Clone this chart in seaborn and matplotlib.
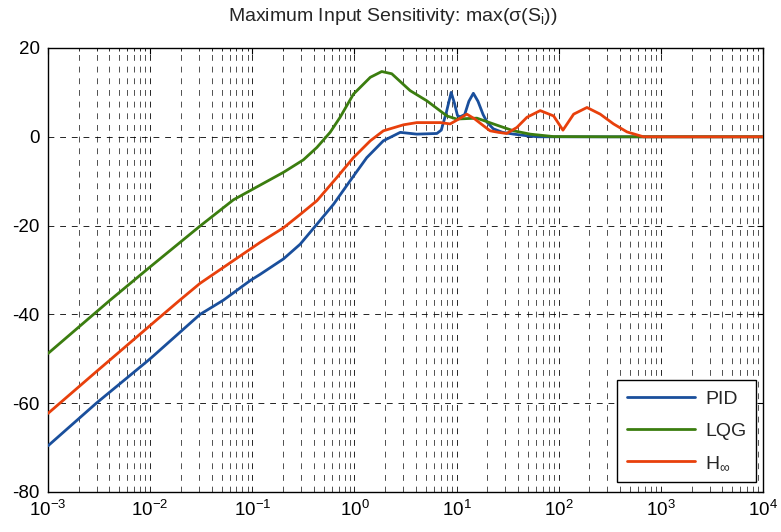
import numpy as np
import pandas as pd
import matplotlib
matplotlib.use("Agg")
import matplotlib.pyplot as plt
import matplotlib.ticker as mticker
import seaborn as sns

# ---------------- data ----------------
pid_freq = [0.001, 0.00297, 0.01, 0.0308, 0.0521, 0.0951, 0.119, 0.202, 0.294, 0.429,
            0.624, 0.908, 1.32, 1.92, 2.81, 4.08, 6.41, 7.08, 7.94, 8.85, 9.55,
            10.2, 10.8, 12.0, 13.2, 14.6, 16.2, 18.2, 20.0, 22.9, 28.2, 36.3,
            50.1, 63.1, 100.0, 10000.0]
pid_mag = [-69.6, -60.0, -50.0, -40.0, -36.8, -32.4, -31.0, -27.5, -24.2, -19.7,
           -15.2, -9.9, -4.7, -0.9, 1.0, 0.6, 0.75, 1.5, 5.5, 10.0, 7.5,
           4.8, 4.5, 5.0, 8.0, 9.8, 8.0, 5.0, 3.2, 1.8, 1.0, 0.6,
           0.2, 0.0, 0.0, 0.0]

lqg_freq = [0.001, 0.00405, 0.01, 0.0308, 0.0653, 0.119, 0.202, 0.316, 0.429, 0.578,
            0.724, 0.977, 1.43, 1.85, 2.32, 3.51, 5.12, 8.04, 10.0, 15.8,
            25.7, 36.1, 52.5, 89.1, 316.0, 10000.0]
lqg_mag = [-48.8, -36.8, -29.3, -20.1, -14.2, -10.9, -8.0, -5.2, -2.4, 1.0,
           4.4, 9.6, 13.4, 14.7, 14.2, 10.4, 8.1, 4.7, 4.0, 4.2,
           2.5, 1.35, 0.6, 0.05, 0.0, 0.0]

hinf_freq = [0.001, 0.00297, 0.0115, 0.0195, 0.0308, 0.119, 0.202, 0.294, 0.429, 0.671,
             0.977, 1.43, 1.92, 3.02, 4.08, 6.92, 8.65, 10.5, 12.6, 15.1,
             18.3, 21.3, 25.7, 30.9, 38.9, 48.9, 65.9, 89.1, 110.0, 140.0,
             189.0, 255.0, 344.0, 466.0, 676.0, 10000.0]
hinf_mag = [-62.3, -52.9, -41.3, -36.8, -33.0, -23.8, -20.5, -17.5, -14.4, -9.2,
            -4.7, -0.9, 1.35, 2.7, 3.2, 3.2, 2.9, 4.0, 5.1, 4.0,
            2.5, 1.35, 1.0, 0.75, 2.1, 4.4, 5.9, 4.7, 1.5, 5.1,
            6.6, 5.1, 2.9, 1.1, 0.0, 0.0]

labels = ["PID", "LQG", r"H$_{\infty}$"]
colors = ["#1a4f9c", "#3b7d0f", "#e8400c"]

title = r"Maximum Input Sensitivity: max(σ(S$_{\mathrm{i}}$))"
xticks = [1e-3, 1e-2, 1e-1, 1e0, 1e1, 1e2, 1e3, 1e4]
yticks = [-80, -60, -40, -20, 0, 20]

# ---------------- style ----------------
sns.set_style("white")
plt.rcParams["font.family"] = ["Liberation Sans", "DejaVu Sans"]
plt.rcParams["mathtext.fontset"] = "custom"
plt.rcParams["mathtext.rm"] = "Liberation Sans"
plt.rcParams["mathtext.it"] = "Liberation Sans:italic"
plt.rcParams["mathtext.default"] = "regular"
plt.rcParams["axes.unicode_minus"] = False

df = pd.concat([
    pd.DataFrame({"freq": pid_freq, "mag": pid_mag, "ctrl": labels[0]}),
    pd.DataFrame({"freq": lqg_freq, "mag": lqg_mag, "ctrl": labels[1]}),
    pd.DataFrame({"freq": hinf_freq, "mag": hinf_mag, "ctrl": labels[2]}),
], ignore_index=True)

fig = plt.figure(figsize=(7.81, 5.32), dpi=100)
ax = fig.add_axes([48 / 781, 1 - 492 / 532, 715 / 781, 444 / 532])

sns.lineplot(data=df, x="freq", y="mag", hue="ctrl", hue_order=labels,
             palette=dict(zip(labels, colors)), estimator=None, sort=True,
             linewidth=2.0, ax=ax, legend=False, zorder=3)

ax.set_xscale("log")
ax.set_xlim(1e-3, 1e4)
ax.set_ylim(-80, 20)
ax.set_xticks(xticks)
ax.xaxis.set_minor_locator(mticker.LogLocator(base=10, subs=np.arange(2, 10), numticks=100))
ax.xaxis.set_minor_formatter(mticker.NullFormatter())
ax.set_yticks(yticks)
ax.set_xlabel("")
ax.set_ylabel("")

ax.tick_params(which="both", direction="in", top=True, right=True,
               labelsize=13.5, colors="black")
ax.tick_params(which="major", length=4, width=0.8, pad=6)
ax.tick_params(which="minor", length=2.5, width=0.6)

for s in ax.spines.values():
    s.set_color("black")
    s.set_linewidth(1.0)

ax.grid(which="major", axis="both", color="black", linewidth=0.6,
        linestyle=(0, (7, 7)), zorder=0)
ax.grid(which="minor", axis="x", color="#333333", linewidth=0.6,
        linestyle=(0, (7, 7)), zorder=0)
ax.set_axisbelow(True)

fig.text(393 / 781, 1 - 21 / 532, title, ha="center",
         va="baseline", fontsize=14)

handles = [plt.Line2D([], [], color=c, linewidth=2.0) for c in colors]
leg = ax.legend(handles, labels, loc="lower right",
                bbox_to_anchor=(0.99, 0.0225), borderaxespad=0,
                fontsize=14, frameon=True, fancybox=False, framealpha=1,
                edgecolor="black", handlelength=3.5, handletextpad=0.5,
                labelspacing=0.75, borderpad=0.5)
leg.get_frame().set_linewidth(1.0)

fig.savefig("out.png", dpi=100)
